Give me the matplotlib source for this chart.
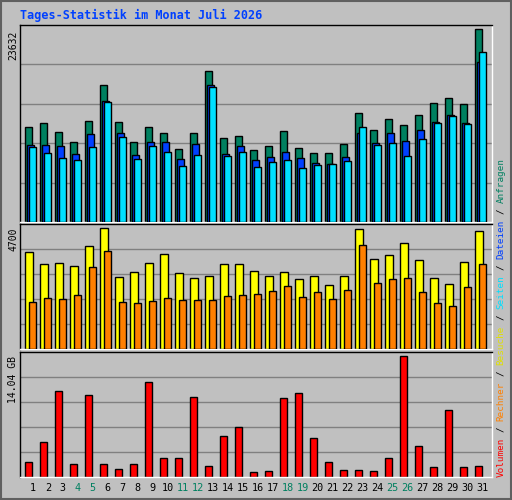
import matplotlib
matplotlib.use("Agg")
import matplotlib.pyplot as plt
import numpy as np

# Daten Juli 2026
days = list(range(1, 32))
weekend = {4, 5, 11, 12, 18, 19, 25, 26}

hits = [11651, 12145, 11034, 9798, 12392, 16715, 12269, 9798, 11651, 10910, 8934,
        10910, 18444, 10293, 10540, 8810, 9304, 11157, 9057, 8440, 8440, 9551,
        13380, 11281, 12639, 11898, 13133, 14615, 15233, 14492, 23632]
files = [9428, 9428, 9304, 8316, 10787, 14862, 10910, 8193, 9798, 9798, 7699,
         9551, 16715, 8316, 9304, 7575, 7946, 8563, 7822, 7205, 7081, 7946,
         10910, 9675, 10910, 9922, 11281, 12269, 13133, 12145, 19556]
pages = [9181, 8440, 7822, 7575, 9181, 14739, 10416, 7699, 9304, 8563, 6834,
         8193, 16468, 8069, 8563, 6711, 7328, 7575, 6587, 6958, 7081, 7452,
         11651, 9428, 9675, 8069, 10169, 12145, 13010, 12022, 20791]
visits = [3761, 3291, 3330, 3213, 3996, 4700, 2782, 2978, 3330, 3683, 2938,
          2743, 2821, 3291, 3291, 3017, 2821, 2978, 2703, 2821, 2468, 2821,
          4662, 3487, 3644, 4114, 3448, 2743, 2507, 3369, 4584]
hosts = [1802, 1959, 1920, 2077, 3174, 3800, 1802, 1763, 1841, 1959, 1881,
         1881, 1881, 2037, 2077, 2116, 2233, 2429, 1998, 2194, 1920, 2272,
         4036, 2547, 2703, 2743, 2194, 1763, 1646, 2390, 3291]
volume_gb = [1.69, 4.04, 9.92, 1.45, 9.45, 1.45, 0.98, 1.45, 10.98, 2.16, 2.16,
             9.22, 1.22, 4.75, 5.80, 0.63, 0.75, 9.10, 9.69, 4.51, 1.69, 0.86,
             0.86, 0.75, 2.16, 14.04, 3.57, 1.10, 7.80, 1.10, 1.33]

BG = "#c0c0c0"
GRID = "#808080"
x = np.arange(31)

fig = plt.figure(figsize=(5.12, 5.0), dpi=100, facecolor=BG)
W, H = 512, 500


def panel(top, bottom):
    ax = fig.add_axes([20 / W, 1 - bottom / H, 472 / W, (bottom - top) / H])
    ax.set_facecolor(BG)
    ax.set_xlim(-0.353, 31.113)
    ax.set_xticks([])
    ax.set_yticks([])
    for s in ax.spines.values():
        s.set_color("black")
        s.set_linewidth(1)
    ax.spines["right"].set_color("white")
    ax.spines["bottom"].set_color("white")
    return ax


def grid(ax, ymax):
    for k in range(1, 5):
        ax.axhline(ymax * k / 5, color=GRID, lw=1, zorder=0)


bw = 0.47
ax1 = panel(25, 222)
ym1 = max(hits) * 1.02
ax1.set_ylim(0, ym1)
grid(ax1, ym1)
ax1.bar(x, hits, width=bw, align="edge", color="#008060", edgecolor="black", lw=1, zorder=2)
ax1.bar(x + 0.09, files, width=bw, align="edge", color="#0040ff", edgecolor="black", lw=1, zorder=3)
ax1.bar(x + 0.27, pages, width=bw, align="edge", color="#00e0ff", edgecolor="black", lw=1, zorder=4)

ax2 = panel(224, 349)
ym2 = max(visits) * 1.03
ax2.set_ylim(0, ym2)
grid(ax2, ym2)
ax2.bar(x, visits, width=0.53, align="edge", color="#ffff00", edgecolor="black", lw=1, zorder=2)
ax2.bar(x + 0.27, hosts, width=bw, align="edge", color="#ff8000", edgecolor="black", lw=1, zorder=3)

ax3 = panel(352, 477)
ym3 = max(volume_gb) * 1.03
ax3.set_ylim(0, ym3)
grid(ax3, ym3)
ax3.bar(x, volume_gb, width=bw, align="edge", color="#ff0000", edgecolor="black", lw=1, zorder=2)

mono = "DejaVu Sans Mono"
for ax, lab in [(ax1, "23632"), (ax2, "4700"), (ax3, "14.04 GB")]:
    ax.text(-0.014, 0.97, lab, transform=ax.transAxes, rotation=90, ha="center", va="top",
            fontsize=7, family=mono)

for i, d in enumerate(days):
    ax3.text(i + 0.5, -0.09, str(d), transform=ax3.get_xaxis_transform(), ha="center", va="center",
             fontsize=7.3, family=mono, color="#008060" if d in weekend else "black")

fig.text(20 / W, 1 - 15 / H, "Tages-Statistik im Monat Juli 2026", color="#0040ff",
         fontsize=8.5, family=mono, fontweight="bold", va="center")

# Legende rechts, vertikal und mehrfarbig
legend = [("Volumen", "#ff0000"), ("/", "black"), ("Rechner", "#ff8000"), ("/", "black"),
          ("Besuche", "#e0e000"), ("/", "black"), ("Seiten", "#00e0ff"), ("/", "black"),
          ("Dateien", "#0040ff"), ("/", "black"), ("Anfragen", "#008060")]
char_px = 5.6
y = 477
for txt, col in legend:
    n = len(txt)
    pad = char_px if txt == "/" else 0
    y -= pad
    fig.text(501 / W, 1 - (y - n * char_px / 2) / H, txt, rotation=90, ha="center", va="center",
             color=col, fontsize=6.7, family=mono)
    y -= n * char_px + pad

# Rahmen
fig.patches.append(plt.Rectangle((0.002, 0.002), 0.996, 0.996, transform=fig.transFigure,
                                 fill=False, edgecolor="#606060", lw=1.5))

fig.savefig("out.png", dpi=100, facecolor=BG)
